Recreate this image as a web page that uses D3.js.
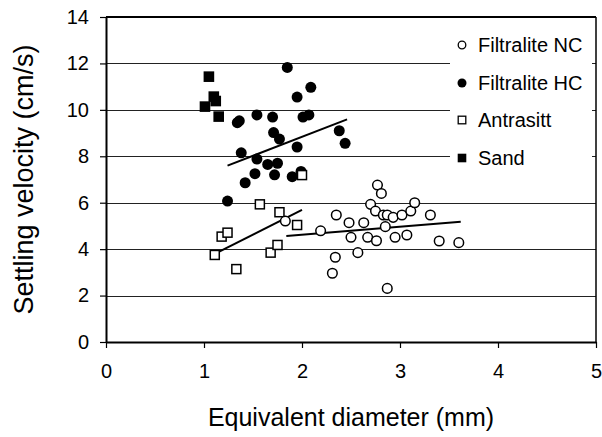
<!DOCTYPE html>
<html><head><meta charset="utf-8">
<script src="https://cdn.jsdelivr.net/npm/d3@7"></script>
<style>
body{margin:0;background:#fff;}
text{font-family:"Liberation Sans",Arial,sans-serif;fill:#000;}
</style></head>
<body><svg id="c" width="602" height="437"></svg>
<script>
const xTicks=[0,1,2,3,4,5];
const yTicks=[0,2,4,6,8,10,12,14];
const seriesNames=["Filtralite NC","Filtralite HC","Antrasitt","Sand"];
const ncX=[1.83,2.19,2.35,2.34,2.31,2.48,2.50,2.57,2.63,2.67,2.77,2.81,2.70,2.75,2.83,2.87,2.93,3.02,3.11,3.15,2.85,2.76,2.95,3.07,2.87,3.31,3.40,3.60];
const ncY=[5.21,4.79,5.47,3.65,2.96,5.14,4.51,3.85,5.14,4.51,6.76,6.40,5.93,5.64,5.47,5.47,5.37,5.47,5.64,6.00,4.97,4.36,4.51,4.61,2.31,5.47,4.35,4.28];
const hcX=[1.24,1.42,1.52,1.72,1.65,1.75,1.90,1.99,1.54,1.38,1.95,1.71,1.77,1.34,1.36,1.54,1.70,2.01,2.07,1.95,2.09,1.85,2.38,2.44];
const hcY=[6.07,6.86,7.25,7.20,7.65,7.70,7.12,7.35,7.88,8.15,8.40,9.02,8.74,9.45,9.53,9.78,9.69,9.69,9.78,10.55,10.97,11.83,9.10,8.56];
const anX=[1.11,1.33,1.18,1.24,1.57,1.77,1.95,1.68,1.75,2.00];
const anY=[3.75,3.14,4.54,4.71,5.93,5.59,5.04,3.85,4.18,7.19];
const sandX=[1.05,1.10,1.12,1.01,1.15];
const sandY=[11.43,10.57,10.38,10.14,9.71];
// trend lines [x1,y1,x2,y2]
const ncTrend=[1.84,4.57,3.62,5.18];
const hcTrend=[1.24,7.60,2.46,9.59];
const anTrend=[1.12,3.82,2.00,5.69];

const svg=d3.select("#c");
const L=106,R=596,T=17,B=342;
const x=d3.scaleLinear().domain([0,5]).range([L,R]);
const y=d3.scaleLinear().domain([0,14]).range([B,T]);

// gridlines
svg.append("g").selectAll("line").data(yTicks.filter(d=>d>0&&d<14)).join("line")
  .attr("x1",L).attr("x2",R).attr("y1",d=>Math.round(y(d))+0.5).attr("y2",d=>Math.round(y(d))+0.5)
  .attr("stroke","#222").attr("stroke-width",1);
// top & right border
svg.append("line").attr("x1",L).attr("x2",R).attr("y1",T).attr("y2",T).attr("stroke","#000").attr("stroke-width",2);
svg.append("line").attr("x1",R).attr("x2",R).attr("y1",T).attr("y2",B).attr("stroke","#000").attr("stroke-width",1.5);

// axes
const ya=svg.append("g").attr("transform",`translate(${L},0)`)
  .call(d3.axisLeft(y).tickValues(yTicks).tickFormat(d3.format("d")).tickSize(6).tickSizeOuter(0).tickPadding(11));
const xa=svg.append("g").attr("transform",`translate(0,${B})`)
  .call(d3.axisBottom(x).tickValues(xTicks).tickFormat(d3.format("d")).tickSize(6).tickSizeOuter(0).tickPadding(16));
[ya,xa].forEach(a=>{
  a.select(".domain").attr("stroke","#000").attr("stroke-width",2);
  a.selectAll(".tick line").attr("stroke","#000").attr("stroke-width",1.2);
  a.selectAll("text").attr("font-size",20).attr("font-family","Liberation Sans,Arial,sans-serif").attr("fill","#000");
});

// trend lines
const trends=[ncTrend,hcTrend,anTrend];
svg.append("g").selectAll("line").data(trends).join("line")
  .attr("x1",d=>x(d[0])).attr("y1",d=>y(d[1])).attr("x2",d=>x(d[2])).attr("y2",d=>y(d[3]))
  .attr("stroke","#000").attr("stroke-width",2);

const zip=(a,b)=>a.map((v,i)=>[v,b[i]]);
// markers
svg.append("g").selectAll("circle").data(zip(hcX,hcY)).join("circle")
  .attr("cx",d=>x(d[0])).attr("cy",d=>y(d[1])).attr("r",5.5).attr("fill","#000");
svg.append("g").selectAll("rect").data(zip(sandX,sandY)).join("rect")
  .attr("x",d=>x(d[0])-5.3).attr("y",d=>y(d[1])-5.3).attr("width",10.6).attr("height",10.6).attr("fill","#000");
svg.append("g").selectAll("rect").data(zip(anX,anY)).join("rect")
  .attr("x",d=>x(d[0])-4.5).attr("y",d=>y(d[1])-4.5).attr("width",9).attr("height",9)
  .attr("fill","#fff").attr("stroke","#000").attr("stroke-width",1.5);
svg.append("g").selectAll("circle").data(zip(ncX,ncY)).join("circle")
  .attr("cx",d=>x(d[0])).attr("cy",d=>y(d[1])).attr("r",4.8)
  .attr("fill","#fff").attr("stroke","#000").attr("stroke-width",1.5);

// legend
const lg=svg.append("g");
lg.append("rect").attr("x",450).attr("y",22).attr("width",142).attr("height",155).attr("fill","#fff");
const rows=[45,83,120,158];
seriesNames.forEach((n,i)=>{
  const cy=rows[i], cx=462;
  if(i===0) lg.append("circle").attr("cx",cx).attr("cy",cy).attr("r",3.8).attr("fill","#fff").attr("stroke","#000").attr("stroke-width",1.3);
  if(i===1) lg.append("circle").attr("cx",cx).attr("cy",cy).attr("r",4.5).attr("fill","#000");
  if(i===2) lg.append("rect").attr("x",cx-3.8).attr("y",cy-3.8).attr("width",7.6).attr("height",7.6).attr("fill","#fff").attr("stroke","#000").attr("stroke-width",1.3);
  if(i===3) lg.append("rect").attr("x",cx-4.3).attr("y",cy-4.3).attr("width",8.6).attr("height",8.6).attr("fill","#000");
  lg.append("text").attr("x",478).attr("y",cy).attr("dy","0.36em").attr("font-size",20).text(n);
});

// axis titles
svg.append("text").attr("x",(L+R)/2).attr("y",426).attr("text-anchor","middle").attr("font-size",25).text("Equivalent diameter (mm)");
svg.append("text").attr("transform",`translate(33,${(T+B)/2}) rotate(-90)`).attr("text-anchor","middle").attr("font-size",27).text("Settling velocity (cm/s)");
</script></body></html>
